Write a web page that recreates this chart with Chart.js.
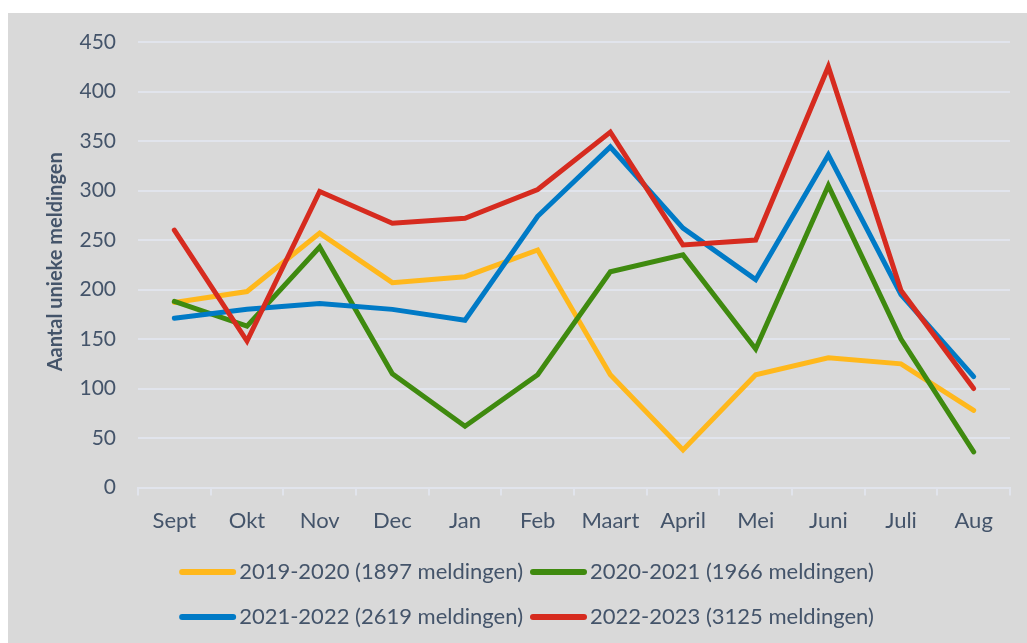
<!DOCTYPE html>
<html>
<head>
<meta charset="utf-8">
<script src="https://cdn.jsdelivr.net/npm/chart.js@4/dist/chart.umd.min.js"></script>
<style>
  html, body { margin: 0; padding: 0; background: #ffffff; }
  #panel {
    position: absolute;
    left: 8px;
    top: 13px;
    width: 1019px;
    height: 630px;
    background: #d9d9d9;
  }
  #chart { display: block; }
</style>
</head>
<body>
<div id="panel"><canvas id="chart" width="1019" height="630"></canvas></div>
<script>
// Months of the school year
const months = ['Sept', 'Okt', 'Nov', 'Dec', 'Jan', 'Feb', 'Maart', 'April', 'Mei', 'Juni', 'Juli', 'Aug'];

// Unique reports per month, per school year
const year2019 = [187, 198, 257, 207, 213, 240, 114, 38, 114, 131, 125, 78];
const year2020 = [188, 163, 243, 115, 62, 114, 218, 235, 140, 305, 150, 36];
const year2021 = [171, 180, 186, 180, 169, 274, 344, 262, 210, 336, 195, 112];
const year2022 = [260, 148, 299, 267, 272, 301, 359, 245, 250, 425, 199, 100];

const seriesLabels = [
    '2019-2020 (1897 meldingen)',
    '2020-2021 (1966 meldingen)',
    '2021-2022 (2619 meldingen)',
    '2022-2023 (3125 meldingen)'
];

const yTicks = [0, 50, 100, 150, 200, 250, 300, 350, 400, 450];
const yTitle = 'Aantal unieke meldingen';

const TEXT_COLOR = '#44546a';
const GRID_COLOR = '#e1e4ec';
const FONT = 'Lato, "Open Sans", sans-serif';

/**
 * Y axis title, centred on the plot area
 */
const axisTitle = {
    id: 'axisTitle',
    afterDraw(chart) {
        const ctx = chart.ctx;
        const area = chart.chartArea;
        ctx.save();
        ctx.translate(48, (area.top + area.bottom) / 2 - 3);
        ctx.rotate(-Math.PI / 2);
        ctx.font = 'bold 20px ' + FONT;
        ctx.fillStyle = TEXT_COLOR;
        ctx.textAlign = 'center';
        ctx.textBaseline = 'middle';
        ctx.fillText(yTitle, 0, 0);
        ctx.restore();
    }
};

/**
 * Legend drawn as two rows of two items, like the original
 */
const gridLegend = {
    id: 'gridLegend',
    afterDraw(chart) {
        const ctx = chart.ctx;
        const sets = chart.data.datasets;
        const lineLen = 57;
        const gap = 3;
        const rows = [559, 604];
        ctx.save();
        ctx.font = '22px ' + FONT;
        ctx.textBaseline = 'middle';
        ctx.textAlign = 'left';

        const colWidth = [0, 1].map(c => Math.max(
            ctx.measureText(sets[c].label).width,
            ctx.measureText(sets[c + 2].label).width
        ));
        const total = 2 * (lineLen + gap) + colWidth[0] + colWidth[1] + 7;
        const startX = (chart.width - total) / 2 + 9;
        const colX = [startX, startX + lineLen + gap + colWidth[0] + 7];

        sets.forEach((ds, i) => {
            const x = colX[i % 2];
            const y = rows[Math.floor(i / 2)];
            ctx.strokeStyle = ds.borderColor;
            ctx.lineWidth = 6;
            ctx.lineCap = 'round';
            ctx.beginPath();
            ctx.moveTo(x + 3, y);
            ctx.lineTo(x + lineLen - 3, y);
            ctx.stroke();
            ctx.fillStyle = TEXT_COLOR;
            ctx.fillText(ds.label, x + lineLen + gap, y);
        });
        ctx.restore();
    }
};

function makeDataset(label, data, color, order) {
    return {
        label: label,
        data: data,
        borderColor: color,
        backgroundColor: color,
        borderWidth: 5,
        borderCapStyle: 'round',
        borderJoinStyle: 'miter',
        pointRadius: 0,
        pointHoverRadius: 0,
        tension: 0,
        fill: false,
        order: order
    };
}

const ctx = document.getElementById('chart').getContext('2d');

new Chart(ctx, {
    type: 'line',
    data: {
        labels: months,
        datasets: [
            makeDataset(seriesLabels[0], year2019, '#ffb81c', 4),
            makeDataset(seriesLabels[1], year2020, '#3f8a0f', 3),
            makeDataset(seriesLabels[2], year2021, '#007ac6', 2),
            makeDataset(seriesLabels[3], year2022, '#d62b1f', 1)
        ]
    },
    options: {
        responsive: false,
        animation: false,
        layout: {
            padding: { left: 28, top: 29, right: 17, bottom: 97 }
        },
        plugins: {
            legend: { display: false },
            tooltip: { enabled: false }
        },
        scales: {
            x: {
                offset: true,
                grid: {
                    offset: true,
                    drawOnChartArea: false,
                    drawTicks: true,
                    tickLength: 8,
                    color: GRID_COLOR,
                    lineWidth: 2
                },
                border: { display: true, color: GRID_COLOR, width: 2 },
                ticks: {
                    color: TEXT_COLOR,
                    font: { family: FONT, size: 22 },
                    padding: 12,
                    maxRotation: 0,
                    autoSkip: false
                }
            },
            y: {
                min: 0,
                max: 450,
                afterBuildTicks(scale) {
                    scale.ticks = yTicks.map(v => ({ value: v }));
                },
                afterFit(scale) {
                    // fixed axis width; labels may overhang the padding
                    scale.width = 102;
                    scale.paddingTop = 0;
                    scale.paddingBottom = 0;
                },
                grid: {
                    drawTicks: false,
                    color: GRID_COLOR,
                    lineWidth: 2
                },
                border: { display: false },
                ticks: {
                    color: TEXT_COLOR,
                    font: { family: FONT, size: 21 },
                    padding: 22
                }
            }
        }
    },
    plugins: [gridLegend, axisTitle]
});
</script>
</body>
</html>
